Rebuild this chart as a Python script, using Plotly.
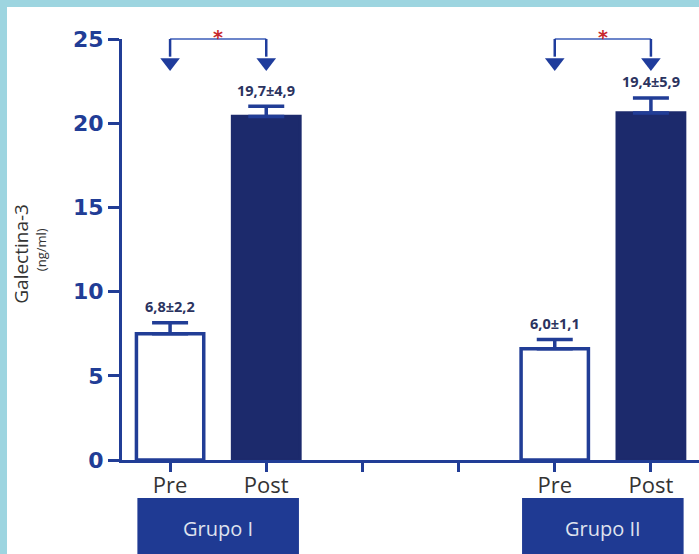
import plotly.graph_objects as go

# ---- data ----
positions = [0, 1, 4, 5]
phases = ["Pre", "Post", "Pre", "Post"]
means = [7.5, 20.4, 6.6, 20.6]
errors = [0.65, 0.6, 0.55, 0.9]
value_labels = ["6,8±2,2", "19,7±4,9", "6,0±1,1", "19,4±5,9"]
tick_positions = [0, 1, 2, 3, 4, 5]
tick_labels = ["Pre", "Post", "", "", "Pre", "Post"]
groups = ["Grupo I", "Grupo II"]
group_centers = [0.5, 4.5]
y_ticks = [0, 5, 10, 15, 20, 25]

AXIS = "#213d96"
NAVY = "#1c2a6c"
BOX = "#1f3a93"
CYAN = "#9dd5e0"

fill_colors = ["white" if p == "Pre" else NAVY for p in phases]
line_colors = [AXIS if p == "Pre" else NAVY for p in phases]

fig = go.Figure()
fig.add_trace(go.Bar(
    x=positions, y=means, width=0.7,
    marker=dict(color=fill_colors, line=dict(color=line_colors, width=3.5)),
    error_y=dict(type="data", array=errors, symmetric=False, arrayminus=[0]*4,
                 color=AXIS, thickness=3.5, width=18),
    showlegend=False, hoverinfo="skip",
))

# significance arrows (triangle heads)
arrow_x = [0, 1, 4, 5]
fig.add_trace(go.Scatter(
    x=arrow_x, y=[23.6]*4, mode="markers",
    marker=dict(symbol="triangle-down", size=17, color="#1f3c9c"),
    cliponaxis=False, showlegend=False, hoverinfo="skip",
))

shapes = []
# white page area on a cyan background (cyan frame on left and top)
shapes.append(dict(type="rect", xref="paper", yref="paper", x0=-0.1993, x1=1.05,
                   y0=-0.3, y1=1.076, fillcolor="white", line=dict(width=0), layer="below"))
for g in range(2):
    a, b = arrow_x[2*g], arrow_x[2*g+1]
    shapes.append(dict(type="line", xref="x", yref="paper", x0=a, x1=b, y0=1.0, y1=1.0,
                       line=dict(color="#3b5cb8", width=1.5)))
    for xv in (a, b):
        shapes.append(dict(type="line", xref="x", yref="paper", x0=xv, x1=xv, y0=1.0, y1=0.958,
                           line=dict(color="#1f3c9c", width=2.5)))

annotations = []
for g in range(2):
    a, b = arrow_x[2*g], arrow_x[2*g+1]
    annotations.append(dict(x=(a+b)/2, y=1.0, xref="x", yref="paper", text="<b>*</b>",
                            showarrow=False, yanchor="middle", yshift=2,
                            font=dict(color="#c8282d", size=19, family="DejaVu Sans")))

for xv, m, e, t in zip(positions, means, errors, value_labels):
    annotations.append(dict(x=xv, y=m + e, xref="x", yref="y", text=t,
                            showarrow=False, yanchor="middle", yshift=16,
                            font=dict(color="#2b3360", size=14.5, family="Open Sans",
                                      weight="bold")))

# group boxes
for gname, gc in zip(groups, group_centers):
    shapes.append(dict(type="rect", xref="x", yref="paper", x0=gc-0.84, x1=gc+0.84,
                       y0=-0.09, y1=-0.24, fillcolor=BOX, line=dict(width=0), layer="above"))
    annotations.append(dict(x=gc, y=-0.163, xref="x", yref="paper", text=gname,
                            showarrow=False, yanchor="middle",
                            font=dict(color="#dfe3ee", size=20, family="Open Sans")))

# y axis title
annotations.append(dict(x=-0.175, y=0.49, xref="paper", yref="paper", text="Galectina-3",
                        textangle=-90, showarrow=False, xanchor="center", yanchor="middle",
                        font=dict(color="#333333", size=19, family="Open Sans")))
annotations.append(dict(x=-0.141, y=0.50, xref="paper", yref="paper", text="(ng/ml)",
                        textangle=-90, showarrow=False, xanchor="center", yanchor="middle",
                        font=dict(color="#333333", size=13, family="Open Sans")))

fig.update_layout(
    width=699, height=554,
    margin=dict(l=122, r=0, t=39, b=94),
    paper_bgcolor=CYAN, plot_bgcolor="white",
    shapes=shapes, annotations=annotations,
    bargap=0.3,
    xaxis=dict(range=[-0.5, 5.5], tickvals=tick_positions, ticktext=tick_labels,
               showgrid=False, zeroline=False, showline=True, linecolor=AXIS, linewidth=3,
               ticks="outside", ticklen=9, tickwidth=3, tickcolor=AXIS,
               ticklabelstandoff=-5,
               tickfont=dict(color="#333333", size=22, family="Open Sans")),
    yaxis=dict(range=[0, 25], tickvals=y_ticks, showgrid=False, zeroline=False,
               showline=True, linecolor=AXIS, linewidth=3,
               ticks="outside", ticklen=11, tickwidth=3, tickcolor=AXIS,
               tickfont=dict(color=AXIS, size=22, family="DejaVu Sans", weight="bold")),
)

fig.write_html("out.html", config={"displayModeBar": False},
               post_script="document.body.style.margin='0';document.body.style.overflow='hidden';")
